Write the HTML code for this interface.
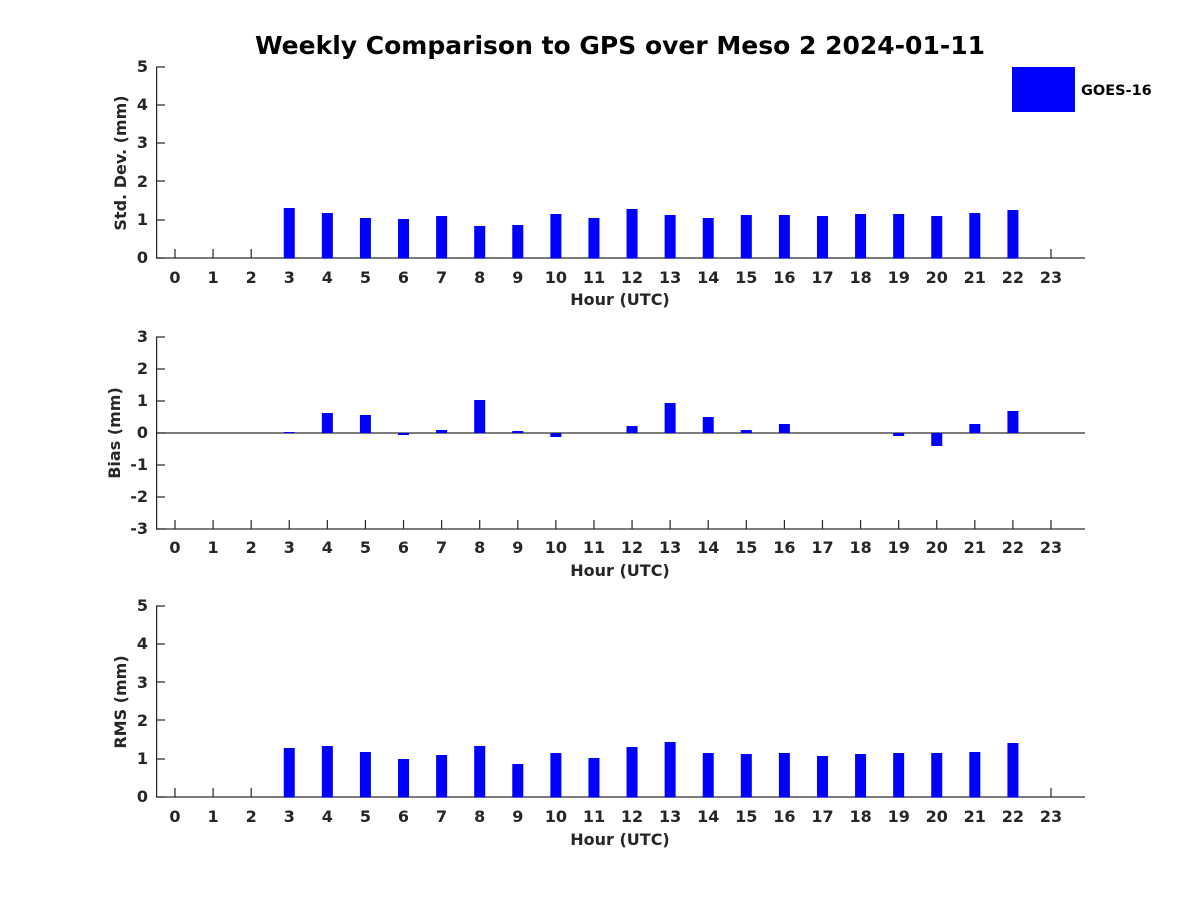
<!DOCTYPE html>
<html><head><meta charset="utf-8"><style>
body{margin:0;background:#fff}
svg text{font-family:"DejaVu Sans","Liberation Sans",sans-serif;font-weight:bold;fill:#262626}
</style></head><body>
<svg id="s" width="1200" height="900" xmlns="http://www.w3.org/2000/svg">
<rect width="1200" height="900" fill="#fff"/>
<text x="620" y="54" font-size="25" text-anchor="middle" style="fill:#000">Weekly Comparison to GPS over Meso 2 2024-01-11</text>
<g font-size="16" text-anchor="end">
<text x="148" y="72">5</text><text x="148" y="110">4</text><text x="148" y="148">3</text><text x="148" y="187">2</text><text x="148" y="225">1</text><text x="148" y="263">0</text>
<text x="148" y="342">3</text><text x="148" y="374">2</text><text x="148" y="406">1</text><text x="148" y="438">0</text><text x="148" y="470">-1</text><text x="148" y="502">-2</text><text x="148" y="534">-3</text>
<text x="148" y="611">5</text><text x="148" y="649">4</text><text x="148" y="688">3</text><text x="148" y="726">2</text><text x="148" y="764">1</text><text x="148" y="802">0</text>
</g>
<g font-size="16" text-anchor="middle">
<text x="126" y="163" transform="rotate(-90 126 163)">Std. Dev. (mm)</text>
<text x="120" y="433" transform="rotate(-90 120 433)">Bias (mm)</text>
<text x="126" y="702" transform="rotate(-90 126 702)">RMS (mm)</text>
<text x="620" y="305">Hour (UTC)</text>
<text x="620" y="576">Hour (UTC)</text>
<text x="620" y="845">Hour (UTC)</text>
</g>
<g font-size="16" text-anchor="middle"><text x="175" y="283">0</text><text x="213.1" y="283">1</text><text x="251.2" y="283">2</text><text x="289.3" y="283">3</text><text x="327.3" y="283">4</text><text x="365.4" y="283">5</text><text x="403.5" y="283">6</text><text x="441.6" y="283">7</text><text x="479.7" y="283">8</text><text x="517.8" y="283">9</text><text x="555.9" y="283">10</text><text x="594" y="283">11</text><text x="632" y="283">12</text><text x="670.1" y="283">13</text><text x="708.2" y="283">14</text><text x="746.3" y="283">15</text><text x="784.4" y="283">16</text><text x="822.5" y="283">17</text><text x="860.6" y="283">18</text><text x="898.7" y="283">19</text><text x="936.7" y="283">20</text><text x="974.8" y="283">21</text><text x="1012.9" y="283">22</text><text x="1051" y="283">23</text></g>
<g font-size="16" text-anchor="middle"><text x="175" y="553">0</text><text x="213.1" y="553">1</text><text x="251.2" y="553">2</text><text x="289.3" y="553">3</text><text x="327.3" y="553">4</text><text x="365.4" y="553">5</text><text x="403.5" y="553">6</text><text x="441.6" y="553">7</text><text x="479.7" y="553">8</text><text x="517.8" y="553">9</text><text x="555.9" y="553">10</text><text x="594" y="553">11</text><text x="632" y="553">12</text><text x="670.1" y="553">13</text><text x="708.2" y="553">14</text><text x="746.3" y="553">15</text><text x="784.4" y="553">16</text><text x="822.5" y="553">17</text><text x="860.6" y="553">18</text><text x="898.7" y="553">19</text><text x="936.7" y="553">20</text><text x="974.8" y="553">21</text><text x="1012.9" y="553">22</text><text x="1051" y="553">23</text></g>
<g font-size="16" text-anchor="middle"><text x="175" y="822">0</text><text x="213.1" y="822">1</text><text x="251.2" y="822">2</text><text x="289.3" y="822">3</text><text x="327.3" y="822">4</text><text x="365.4" y="822">5</text><text x="403.5" y="822">6</text><text x="441.6" y="822">7</text><text x="479.7" y="822">8</text><text x="517.8" y="822">9</text><text x="555.9" y="822">10</text><text x="594" y="822">11</text><text x="632" y="822">12</text><text x="670.1" y="822">13</text><text x="708.2" y="822">14</text><text x="746.3" y="822">15</text><text x="784.4" y="822">16</text><text x="822.5" y="822">17</text><text x="860.6" y="822">18</text><text x="898.7" y="822">19</text><text x="936.7" y="822">20</text><text x="974.8" y="822">21</text><text x="1012.9" y="822">22</text><text x="1051" y="822">23</text></g>
<rect x="1012" y="67" width="63" height="45" fill="#0000ff"/>
<text x="1081" y="95" font-size="14.5" style="fill:#000">GOES-16</text>
<g id="g"></g>
</svg>
<script>
var ns="http://www.w3.org/2000/svg",g=document.getElementById("g");
function r(x,y,w,h,c){var e=document.createElementNS(ns,"rect");e.setAttribute("x",x);e.setAttribute("y",y);e.setAttribute("width",w);e.setAttribute("height",h);e.setAttribute("fill",c);g.appendChild(e);}
function xc(h){return 175+38.087*h;}
var k="#262626";
[[67,258,[67,105,143,181,220,258]],[337,529,[337,369,401,433,465,497,529]],[606,797,[606,644,682,720,759,797]]].forEach(function(a){
 r(156,a[0],1.2,a[1]-a[0],k); r(156,a[1]-0.6,929,1.2,k);
 a[2].forEach(function(y){r(156,y-0.6,9,1.2,k);});
 for(var h=0;h<24;h++)r(xc(h)-0.6,a[1]-9,1.2,9,k);
});
r(156,432.4,929,1.2,k);
var p1=[,,,208,213,218,219,216,226,225,214,218,209,215,218,215,215,216,214,214,216,213,210];
var p3=[,,,748,746,752,759,755,746,764,753,758,747,742,753,754,753,756,754,753,753,752,743];
var p2=[,,,432,413,415,435,430,400,431,437,433,426,403,417,430,424,433,433,436,446,424,411];
for(var h=3;h<=22;h++){
 r(xc(h)-5.5,p1[h],11,258.6-p1[h],"#0000ff");
 r(xc(h)-5.5,p3[h],11,797.6-p3[h],"#0000ff");
 var v=p2[h];if(v<433)r(xc(h)-5.5,v,11,433-v,"#0000ff");else if(v>433)r(xc(h)-5.5,433,11,v-433,"#0000ff");
}
</script>
</body></html>
